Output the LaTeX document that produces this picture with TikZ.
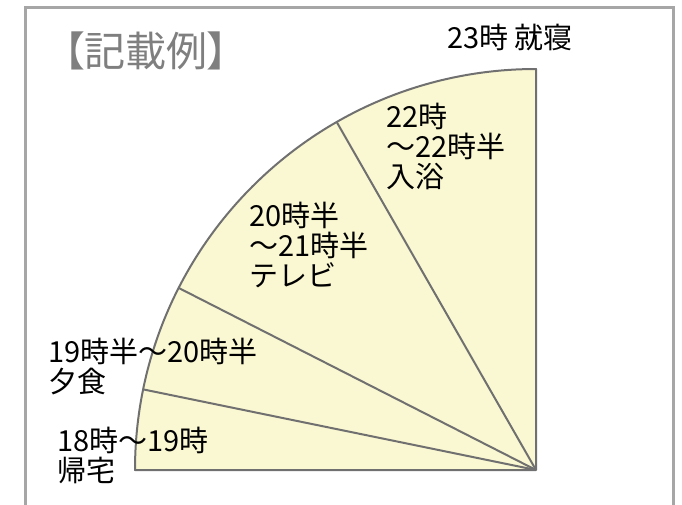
\documentclass[tikz,border=0pt]{standalone}
\usepackage{fontspec}
\setmainfont{Noto Sans CJK JP}
\newfontfamily\titlefont[RawFeature=+palt]{Noto Sans CJK JP}
\usetikzlibrary{calc}
\definecolor{fillY}{HTML}{FAF8D2}
\definecolor{strokeG}{HTML}{707070}
\definecolor{frameG}{HTML}{A6A6A6}
\definecolor{titleG}{HTML}{7F7F7F}
\newcommand\mylblfont{\fontsize{29}{30}\selectfont\lineskiplimit=-100pt\relax}
\begin{document}
\begin{tikzpicture}[x=1pt,y=1pt,
  lbl/.style={anchor=base west, inner sep=0pt, align=left,
    font=\mylblfont, text=black},
  ttl/.style={anchor=base west, inner sep=0pt,
    font=\titlefont\fontsize{41}{42}\selectfont, text=titleG},
  sector/.style={draw=strokeG, line width=2pt, line join=round},
  divider/.style={draw=strokeG, line width=2pt},
  frame/.style={draw=frameG, line width=3pt}]
\useasboundingbox (0,0) rectangle (682,-504);
% outer frame (its bottom edge lies below the picture)
\draw[frame] (25,-520) -- (25,-7) -- (673,-7) -- (673,-520);
% quarter circle
\coordinate (C) at (536,-470);
\coordinate (L) at ($(C)+(180:401)$);
\coordinate (p1) at ($(C)+(168.4:401)$);
\coordinate (p2) at ($(C)+(153.0:401)$);
\coordinate (p3) at ($(C)+(119.8:401)$);
\fill[fillY] (C) -- (L) arc[start angle=180, end angle=90, radius=401] -- cycle;
\draw[divider] (C) -- (p1);
\draw[divider] (C) -- (p2);
\draw[divider] (C) -- (p3);
\draw[sector] (C) -- (L) arc[start angle=180, end angle=90, radius=401] -- cycle;
% texts (base anchor = baseline of the last line)
\node[ttl] (title) at (64,-66) {【記載例】};
\node[lbl] (bed) at (447,-48) {23時 就寝};
\node[lbl] (bath) at (386,-187) {22時\\～22時半\\入浴};
\node[lbl] (tv) at (249,-286) {20時半\\～21時半\\テレビ};
\node[lbl] (dinner) at (48,-392) {19時半～20時半\\夕食};
\node[lbl] (home) at (57,-481) {18時～19時\\帰宅};
\end{tikzpicture}
\end{document}
